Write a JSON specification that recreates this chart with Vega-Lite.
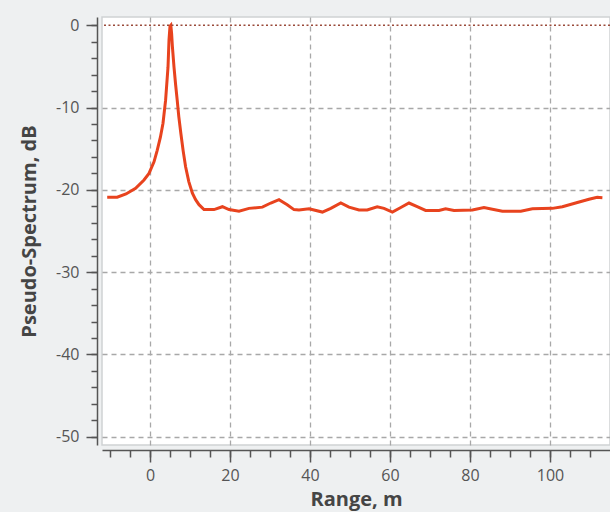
{
  "$schema": "https://vega.github.io/schema/vega-lite/v6.json",
  "width": 508,
  "height": 428,
  "autosize": {"type": "none"},
  "padding": {"left": 102, "top": 17, "right": 0, "bottom": 67},
  "background": "#eef0f1",
  "config": {
    "view": {"fill": "#ffffff", "stroke": "#cfd2d4", "strokeWidth": 1.5},
    "font": "Open Sans",
    "axis": {
      "labelFont": "Open Sans",
      "titleFont": "Open Sans",
      "labelColor": "#555555",
      "titleColor": "#454545",
      "domainColor": "#555555",
      "tickColor": "#555555",
      "domainWidth": 1.5,
      "tickWidth": 1.5,
      "labelFontSize": 16,
      "titleFontSize": 20,
      "titleFontWeight": "bold"
    }
  },
  "data": {
    "values": [
      {"range": -10.7, "db": -20.9},
      {"range": -8.2, "db": -20.9},
      {"range": -6, "db": -20.5},
      {"range": -3.6, "db": -19.8},
      {"range": -1.5, "db": -18.8},
      {"range": -0.25, "db": -18.0},
      {"range": 1, "db": -16.6},
      {"range": 1.8, "db": -15.2},
      {"range": 2.6, "db": -13.6},
      {"range": 3.25, "db": -11.9},
      {"range": 3.9, "db": -9.1},
      {"range": 4.5, "db": -5.1},
      {"range": 4.75, "db": -1.8},
      {"range": 5.0, "db": -0.1},
      {"range": 5.2, "db": 0},
      {"range": 5.4, "db": -1.0},
      {"range": 5.6, "db": -2.6},
      {"range": 6.0, "db": -5.1},
      {"range": 6.4, "db": -7.2},
      {"range": 6.8, "db": -9.1},
      {"range": 7.2, "db": -11.1},
      {"range": 7.7, "db": -13.1},
      {"range": 8.3, "db": -15.3},
      {"range": 8.9, "db": -17.2},
      {"range": 9.7, "db": -19.0},
      {"range": 10.6, "db": -20.4},
      {"range": 11.4, "db": -21.2},
      {"range": 12.25, "db": -21.8},
      {"range": 13.5, "db": -22.4},
      {"range": 16, "db": -22.4},
      {"range": 18.1, "db": -22.05},
      {"range": 19.75, "db": -22.4},
      {"range": 22.25, "db": -22.6},
      {"range": 24.75, "db": -22.25},
      {"range": 28.1, "db": -22.1},
      {"range": 30.2, "db": -21.6},
      {"range": 32.25, "db": -21.2},
      {"range": 34.3, "db": -21.8},
      {"range": 36, "db": -22.4},
      {"range": 37.25, "db": -22.45},
      {"range": 39.75, "db": -22.3},
      {"range": 43.1, "db": -22.7},
      {"range": 45.2, "db": -22.25},
      {"range": 47.7, "db": -21.6},
      {"range": 49.75, "db": -22.1},
      {"range": 52.25, "db": -22.45},
      {"range": 54.3, "db": -22.45},
      {"range": 56.8, "db": -22.05},
      {"range": 58.5, "db": -22.25},
      {"range": 60.6, "db": -22.7},
      {"range": 62.7, "db": -22.15},
      {"range": 64.75, "db": -21.6},
      {"range": 66.8, "db": -22.05},
      {"range": 68.9, "db": -22.5},
      {"range": 72.25, "db": -22.5},
      {"range": 73.9, "db": -22.3},
      {"range": 76, "db": -22.5},
      {"range": 80.6, "db": -22.45},
      {"range": 83.5, "db": -22.15},
      {"range": 85.6, "db": -22.35},
      {"range": 88.1, "db": -22.6},
      {"range": 92.7, "db": -22.6},
      {"range": 95.6, "db": -22.3},
      {"range": 100.6, "db": -22.25},
      {"range": 103.1, "db": -22.05},
      {"range": 106.4, "db": -21.6},
      {"range": 109.75, "db": -21.15},
      {"range": 111.8, "db": -20.9},
      {"range": 113.1, "db": -20.95}
    ]
  },
  "layer": [
    {
      "mark": {"type": "point", "opacity": 0},
      "encoding": {
        "x": {
          "field": "range", "type": "quantitative",
          "scale": {"domain": [-12, 115], "nice": false, "zero": false},
          "axis": {
            "orient": "bottom", "offset": 5, "values": [-10, -5, 0, 5, 10, 15, 20, 25, 30, 35, 40, 45, 50, 55, 60, 65, 70, 75, 80, 85, 90, 95, 100, 105, 110],
            "tickSize": 7, "labels": false, "domain": false, "grid": false, "title": null
          }
        },
        "y": {
          "field": "db", "type": "quantitative",
          "scale": {"domain": [-51, 1], "nice": false, "zero": false},
          "axis": {
            "orient": "left", "offset": 5, "values": [-50, -48, -46, -44, -42, -40, -38, -36, -34, -32, -30, -28, -26, -24, -22, -20, -18, -16, -14, -12, -10, -8, -6, -4, -2, 0],
            "tickSize": 6, "labels": false, "domain": false, "grid": false, "title": null
          }
        }
      }
    },
    {
      "mark": {"type": "line", "color": "#e8431e", "strokeWidth": 3, "interpolate": "linear"},
      "encoding": {
        "x": {
          "field": "range", "type": "quantitative",
          "scale": {"domain": [-12, 115], "nice": false, "zero": false},
          "axis": {
            "orient": "bottom", "offset": 5, "values": [0, 20, 40, 60, 80, 100],
            "tickSize": 12, "labelPadding": 5, "grid": true, "gridColor": "#a8a8a8", "gridDash": [5, 4], "gridWidth": 1.3,
            "title": "Range, m", "titlePadding": 6
          }
        },
        "y": {
          "field": "db", "type": "quantitative",
          "scale": {"domain": [-51, 1], "nice": false, "zero": false},
          "axis": {
            "orient": "left", "offset": 5, "values": [-50, -40, -30, -20, -10, 0],
            "tickSize": 11, "labelPadding": 7, "grid": true, "gridColor": "#a8a8a8", "gridDash": [5, 4], "gridWidth": 1.3,
            "gridOpacity": {"condition": {"test": "datum.value === 0", "value": 0}, "value": 1},
            "labelExpr": "replace(datum.label, '\u2212', '-')",
            "title": "Pseudo-Spectrum, dB", "titlePadding": 16
          }
        }
      }
    },
    {
      "data": {"values": [{"ref": 0}]},
      "mark": {"type": "rule", "color": "#9a4a3a", "strokeDash": [2, 2.5], "strokeWidth": 1.5},
      "encoding": {
        "y": {"field": "ref", "type": "quantitative", "scale": {"domain": [-51, 1], "nice": false, "zero": false}, "axis": null}
      }
    }
  ],
  "resolve": {"axis": {"x": "independent", "y": "independent"}}
}
